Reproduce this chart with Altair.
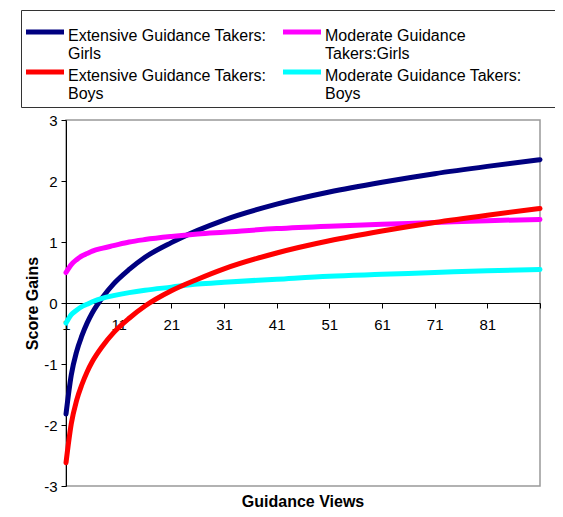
import altair as alt
import pandas as pd

views = [1, 2, 3, 4, 5, 6, 8, 10, 13, 16, 21, 26, 31, 41, 51, 61, 71, 81, 91]
ext_girls = [-1.82, -1.18, -0.80, -0.54, -0.33, -0.16, 0.10, 0.31, 0.55, 0.75, 0.99, 1.19, 1.36, 1.62, 1.82, 1.98, 2.12, 2.24, 2.35]
mod_girls = [0.50, 0.63, 0.71, 0.77, 0.81, 0.85, 0.90, 0.94, 1.00, 1.04, 1.09, 1.13, 1.16, 1.22, 1.26, 1.29, 1.32, 1.35, 1.37]
mod_boys = [-0.33, -0.19, -0.12, -0.06, -0.02, 0.02, 0.08, 0.12, 0.17, 0.21, 0.26, 0.31, 0.34, 0.39, 0.44, 0.47, 0.50, 0.53, 0.55]
ext_boys = [-2.62, -1.98, -1.60, -1.34, -1.13, -0.96, -0.70, -0.49, -0.25, -0.05, 0.20, 0.39, 0.56, 0.82, 1.02, 1.18, 1.32, 1.44, 1.55]

# legend order (filled column by column): Ext Girls, Ext Boys | Mod Girls, Mod Boys
series_names = [
    "Extensive Guidance Takers:|Girls",
    "Extensive Guidance Takers:|Boys",
    "Moderate Guidance|Takers:Girls",
    "Moderate Guidance Takers:|Boys",
]
series_colors = ["#000080", "#FF0000", "#FF00FF", "#00FFFF"]
series_values = [ext_girls, ext_boys, mod_girls, mod_boys]
draw_order = [0, 2, 3, 1]

x_ticks = [1, 11, 21, 31, 41, 51, 61, 71, 81, 91]
y_ticks = [-3, -2, -1, 0, 1, 2, 3]

rows = []
for k, i in enumerate(draw_order):
    for v, s in zip(views, series_values[i]):
        rows.append({"views": v, "gain": s, "series": series_names[i], "ord": k})
df = pd.DataFrame(rows)

FONT = "Liberation Sans"
# blank padding so the legend frame runs past the right edge, as in the original
PAD = "\u00a0" * 60 + "\u200b"

chart = alt.Chart(df).mark_line(strokeWidth=5, strokeCap="round", interpolate="monotone").encode(
    x=alt.X("views:Q",
            scale=alt.Scale(domain=[1, 91], nice=False, zero=False),
            axis=alt.Axis(values=x_ticks, title=None, grid=False, offset=-183,
                          labelExpr="datum.value == 91 ? '' : datum.label",
                          tickSize=5, labelPadding=9, labelFontSize=15, labelFont=FONT,
                          labelColor="black", domainColor="black", tickColor="black",
                          labelFlush=False)),
    y=alt.Y("gain:Q",
            scale=alt.Scale(domain=[-3, 3], nice=False),
            axis=alt.Axis(values=y_ticks, title="Score Gains", grid=False,
                          labelExpr="datum.value + ''",
                          tickSize=5, labelPadding=4, labelFontSize=15, labelFont=FONT,
                          labelColor="black", domainColor="black", tickColor="black",
                          titleFont=FONT, titleFontSize=16, titleFontWeight="bold",
                          titleColor="black", titlePadding=3)),
    color=alt.Color("series:N",
                    scale=alt.Scale(domain=series_names, range=series_colors),
                    legend=alt.Legend(
                        title=" ", titleFontSize=5, titlePadding=4,
                        orient="none", legendX=-45, legendY=-110,
                        columns=2, columnPadding=6, rowPadding=0,
                        symbolType="M-2,-0.42H2", symbolStrokeWidth=5, symbolSize=361,
                        symbolOffset=7,
                        labelExpr="indexof(datum.label, 'Moderate') == 0 ? split(datum.label + '" + PAD + "', '|') : split(datum.label, '|')",
                        labelFontSize=16, labelFont=FONT, labelColor="black",
                        labelBaseline="middle", labelOffset=11, labelLimit=600,
                        strokeColor="#333333", fillColor="white", padding=5)),
    order=alt.Order("ord:Q"),
    detail="series:N",
).properties(
    width=474, height=366,
    title=alt.Title("Guidance Views", orient="bottom", font=FONT, fontSize=16,
                    fontWeight="bold", color="black", offset=0),
    autosize=alt.AutoSizeParams(type="none"),
    padding={"left": 58, "top": 112, "right": 15, "bottom": 23},
).configure_view(stroke="#999999", strokeWidth=1.5)

chart.save("out.html", embed_options={"renderer": "svg", "actions": False})
